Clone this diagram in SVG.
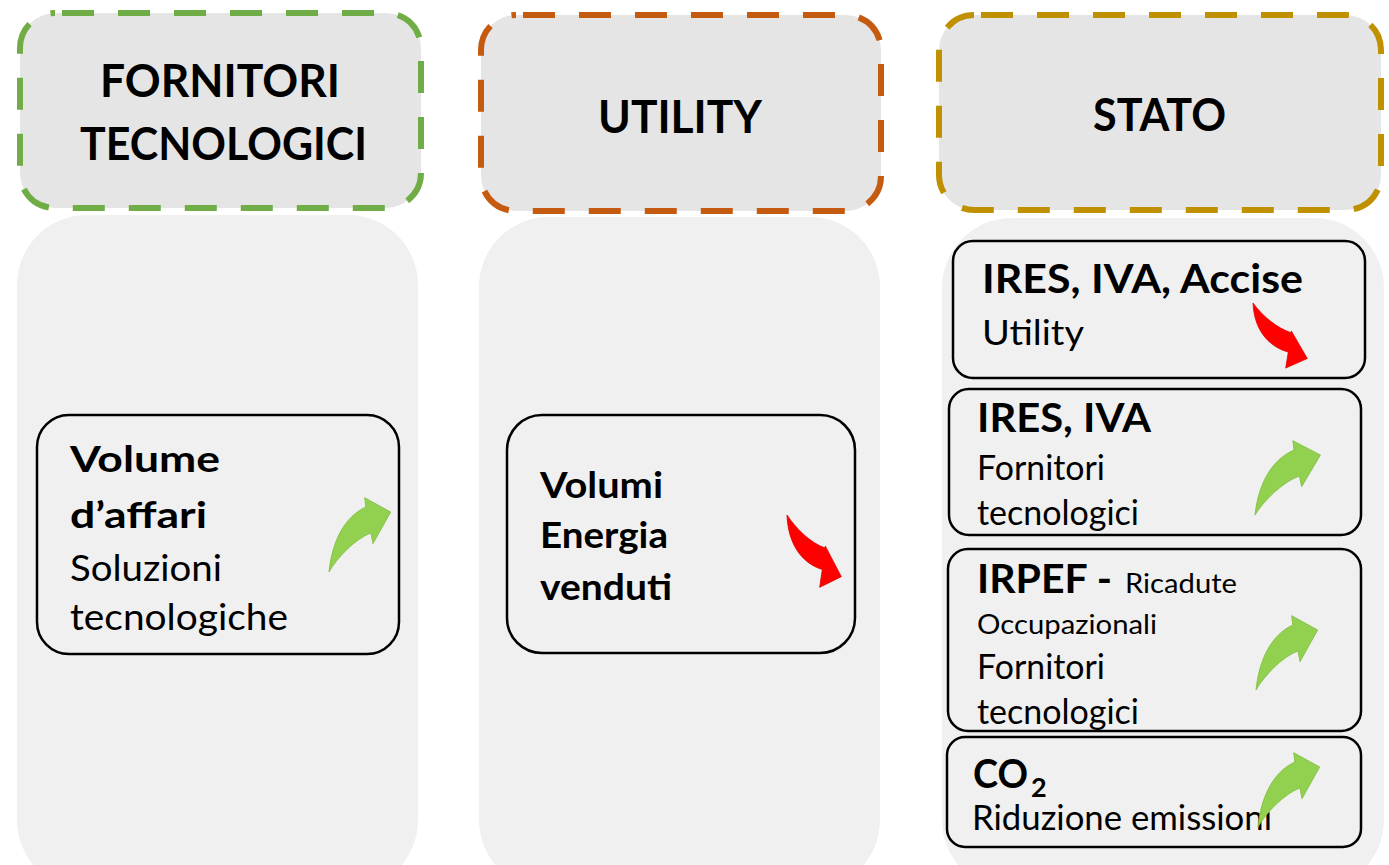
<svg xmlns="http://www.w3.org/2000/svg" width="1389" height="865" viewBox="0 0 1389 865">
  <style>
    .hdr { fill: #e5e5e5; stroke-width: 6; stroke-dasharray: 32 24; }
    .panel { fill: #f0f0f0; }
    .box { fill: #f0f0f0; stroke: #000; stroke-width: 2.5; }
    text { font-family: Lato, "Open Sans", "Liberation Sans", sans-serif; fill: #000; }
    .h { font-size: 45px; font-weight: 700; }
    .b { font-size: 37px; font-weight: 700; }
    .bl { font-size: 41px; font-weight: 700; }
    .sub { font-size: 27px; font-weight: 700; }
    .r { font-size: 37px; }
    .rs { font-size: 35px; }
    .sm { font-size: 27px; }
    .up { fill: #92d050; stroke: #80bd3e; stroke-width: 0.8; }
    .down { fill: #ff0000; stroke: #e00000; stroke-width: 0.8; }
  </style>
  <defs>
    <!-- curved "increase" arrow, tail at origin -->
    <path id="arrowUp" d="M0,0 C3,-30 15,-55 36.8,-65 L35.7,-74.3 L61.7,-60 L44,-28.3 L41.9,-39 C26,-33 8,-14 0,0 Z"/>
    <!-- curved "decrease" arrow, tail at origin -->
    <path id="arrowDown" d="M0,0 C9,14 24,28 38,33 L38.3,31 L54.3,61.7 L32.7,72.3 L35.3,54.5 C14,48 1,28 0,0 Z"/>
  </defs>

  <rect width="1389" height="865" fill="#ffffff"/>

  <!-- Column 1: technology suppliers -->
  <g id="fornitori-header">
    <rect class="hdr" x="20" y="13" width="401" height="195" rx="35" stroke="#70ad47" stroke-dashoffset="49"/>
    <text class="h" x="220" y="97" text-anchor="middle" textLength="240" lengthAdjust="spacingAndGlyphs">FORNITORI</text>
    <text class="h" x="223.5" y="160" text-anchor="middle" textLength="287" lengthAdjust="spacingAndGlyphs">TECNOLOGICI</text>
  </g>
  <g id="fornitori-panel">
    <rect class="panel" x="17" y="215" width="401" height="675" rx="70"/>
  </g>
  <g id="volume-affari">
    <rect class="box" x="37" y="415" width="362" height="239" rx="32"/>
    <text class="b" x="70" y="472" textLength="150" lengthAdjust="spacingAndGlyphs">Volume</text>
    <text class="b" x="70" y="528" textLength="137" lengthAdjust="spacingAndGlyphs">d’affari</text>
    <text class="r" x="70" y="581" textLength="152" lengthAdjust="spacingAndGlyphs">Soluzioni</text>
    <text class="r" x="70" y="630" textLength="218" lengthAdjust="spacingAndGlyphs">tecnologiche</text>
    <use href="#arrowUp" class="up" transform="translate(329,572)"/>
  </g>

  <!-- Column 2: utility -->
  <g id="utility-header">
    <rect class="hdr" x="481" y="15" width="400" height="196" rx="35" stroke="#c55a11" stroke-dashoffset="49"/>
    <text class="h" x="680" y="133" text-anchor="middle" textLength="164" lengthAdjust="spacingAndGlyphs">UTILITY</text>
  </g>
  <g id="utility-panel">
    <rect class="panel" x="479" y="217" width="401" height="673" rx="70"/>
  </g>
  <g id="volumi-energia">
    <rect class="box" x="507" y="415" width="348" height="238" rx="35"/>
    <text class="b" x="540" y="498" textLength="123" lengthAdjust="spacingAndGlyphs">Volumi</text>
    <text class="b" x="540" y="548" textLength="128" lengthAdjust="spacingAndGlyphs">Energia</text>
    <text class="b" x="540" y="600" textLength="132" lengthAdjust="spacingAndGlyphs">venduti</text>
    <use href="#arrowDown" class="down" transform="translate(787,515)"/>
  </g>

  <!-- Column 3: state revenues -->
  <g id="stato-header">
    <rect class="hdr" x="939" y="15" width="442" height="195" rx="35" stroke="#bf9000" stroke-dashoffset="49"/>
    <text class="h" x="1159.5" y="131" text-anchor="middle" textLength="133" lengthAdjust="spacingAndGlyphs">STATO</text>
  </g>
  <g id="stato-panel">
    <rect class="panel" x="942" y="218" width="442" height="672" rx="70"/>
  </g>
  <g id="ires-iva-accise">
    <rect class="box" x="953" y="241" width="412" height="137" rx="20"/>
    <text class="bl" x="982" y="293" textLength="321" lengthAdjust="spacingAndGlyphs">IRES, IVA, Accise</text>
    <text class="rs" x="982" y="345" textLength="102" lengthAdjust="spacingAndGlyphs">Utility</text>
    <use href="#arrowDown" class="down" transform="translate(1253,303) scale(1,0.9)"/>
  </g>
  <g id="ires-iva">
    <rect class="box" x="949" y="389" width="412" height="146" rx="20"/>
    <text class="bl" x="977" y="432" textLength="174" lengthAdjust="spacingAndGlyphs">IRES, IVA</text>
    <text class="rs" x="977" y="480" textLength="128" lengthAdjust="spacingAndGlyphs">Fornitori</text>
    <text class="rs" x="977" y="525" textLength="162" lengthAdjust="spacingAndGlyphs">tecnologici</text>
    <use href="#arrowUp" class="up" transform="translate(1255,515) scale(1.06,1)"/>
  </g>
  <g id="irpef">
    <rect class="box" x="948" y="549" width="413" height="182" rx="20"/>
    <text class="bl" x="977" y="593" textLength="135" lengthAdjust="spacingAndGlyphs">IRPEF -</text>
    <text class="sm" x="1125" y="593" textLength="112" lengthAdjust="spacingAndGlyphs">Ricadute</text>
    <text class="sm" x="977" y="634" textLength="180" lengthAdjust="spacingAndGlyphs">Occupazionali</text>
    <text class="rs" x="977" y="679" textLength="128" lengthAdjust="spacingAndGlyphs">Fornitori</text>
    <text class="rs" x="977" y="724" textLength="162" lengthAdjust="spacingAndGlyphs">tecnologici</text>
    <use href="#arrowUp" class="up" transform="translate(1256,690)"/>
  </g>
  <g id="co2">
    <rect class="box" x="947" y="737" width="414" height="110" rx="18"/>
    <text class="bl" x="973" y="788"><tspan textLength="55" lengthAdjust="spacingAndGlyphs">CO</tspan><tspan class="sub" x="1031" y="797">2</tspan></text>
    <text class="rs" x="972" y="830" textLength="300" lengthAdjust="spacingAndGlyphs">Riduzione emissioni</text>
    <use href="#arrowUp" class="up" transform="translate(1258,827)"/>
  </g>

  <g id="connectors"/>
</svg>
